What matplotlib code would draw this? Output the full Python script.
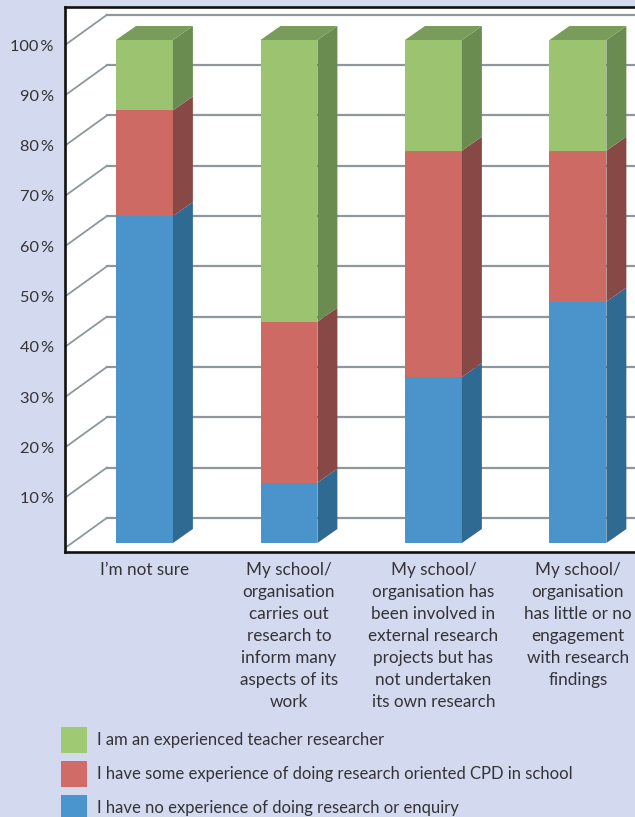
import matplotlib.pyplot as plt
import numpy as np
from matplotlib.patches import Patch

# data (percent of respondents)
categories = ["I\u2019m not sure",
              "My school/\norganisation\ncarries out\nresearch to\ninform many\naspects of its\nwork",
              "My school/\norganisation has\nbeen involved in\nexternal research\nprojects but has\nnot undertaken\nits own research",
              "My school/\norganisation\nhas little or no\nengagement\nwith research\nfindings"]
no_experience = [65, 12, 33, 48]
some_experience = [21, 32, 45, 30]
experienced = [14, 56, 22, 22]
series_names = ["I am an experienced teacher researcher",
                "I have some experience of doing research oriented CPD in school",
                "I have no experience of doing research or enquiry"]
yticks = [10, 20, 30, 40, 50, 60, 70, 80, 90, 100]

bg = "#d3d9ee"
txt = "#333338"
front = ["#4b94cb", "#cd6a64", "#9cc370"]
side = ["#2e6a91", "#874846", "#6a8c50"]
green_top = "#7a9c5a"
grid_c = "#8d979c"

plt.rcParams['font.family'] = ['Lato', 'DejaVu Sans']

fig = plt.figure(figsize=(6.35, 8.17), dpi=100, facecolor=bg)
W, H = 635.0, 817.0
ax = fig.add_axes([65 / W, 1 - 552 / H, (645 - 65) / W, (552 - 7) / H])
ax.set_facecolor("white")

x = np.arange(len(categories))
bw = 0.394
dx, dy = 0.138, 2.78          # bar depth offset
wall_dx, wall_dy = 0.29, 6.0  # back wall offset
x0 = -0.55

ax.set_xlim(x0, 3.464)
ax.set_ylim(-1.79, 106.56)

# back wall gridlines and the diagonals on the side wall
for p in [0] + yticks:
    ax.plot([x0 + wall_dx, 3.6], [p - 1 + wall_dy] * 2, color=grid_c, lw=1.6,
            zorder=1, clip_on=True)
    ax.plot([x0, x0 + wall_dx], [p - 1, p - 1 + wall_dy], color=grid_c, lw=1.3,
            zorder=1)

stacks = [no_experience, some_experience, experienced]
bottom = np.zeros(len(categories))
for i, vals in enumerate(stacks):
    vals = np.array(vals, dtype=float)
    ax.bar(x, vals, bw, bottom=bottom, color=front[i], linewidth=0, zorder=3)
    for xi, b, v in zip(x, bottom, vals):
        xr = xi + bw / 2
        ax.fill([xr, xr + dx, xr + dx, xr], [b, b + dy, b + v + dy, b + v],
                color=side[i], linewidth=0, zorder=3)
    bottom = bottom + vals

# top faces
for xi, t in zip(x, bottom):
    xl, xr = xi - bw / 2, xi + bw / 2
    ax.fill([xl, xr, xr + dx, xl + dx], [t, t, t + dy, t + dy],
            color=green_top, linewidth=0, zorder=3)

for s in ["left", "top", "bottom"]:
    ax.spines[s].set_linewidth(1.9)
    ax.spines[s].set_color("#111111")
ax.spines["right"].set_visible(False)

ax.set_yticks([p - 1 for p in yticks])
ax.set_yticklabels(["%d\u2009%%" % p for p in yticks], fontsize=11.8, color=txt)
ax.set_xticks(x)
ax.set_xticklabels(categories, fontsize=12.3, color=txt, linespacing=1.45,
                   va="top")
ax.tick_params(axis="y", length=0, pad=8)
ax.tick_params(axis="x", length=0, pad=7.5)

handles = [Patch(facecolor=c, linewidth=0) for c in ["#a0c973", "#d06b67", "#4a95cd"]]
fig.legend(handles, series_names, loc="upper left",
           bbox_to_anchor=(61 / W, 1 - 727 / H), frameon=False, fontsize=12,
           handlelength=1.56, handleheight=2.02, handletextpad=0.6,
           labelspacing=0.48, borderpad=0, borderaxespad=0, labelcolor=txt)

fig.savefig("out.png", dpi=100, facecolor=bg)
